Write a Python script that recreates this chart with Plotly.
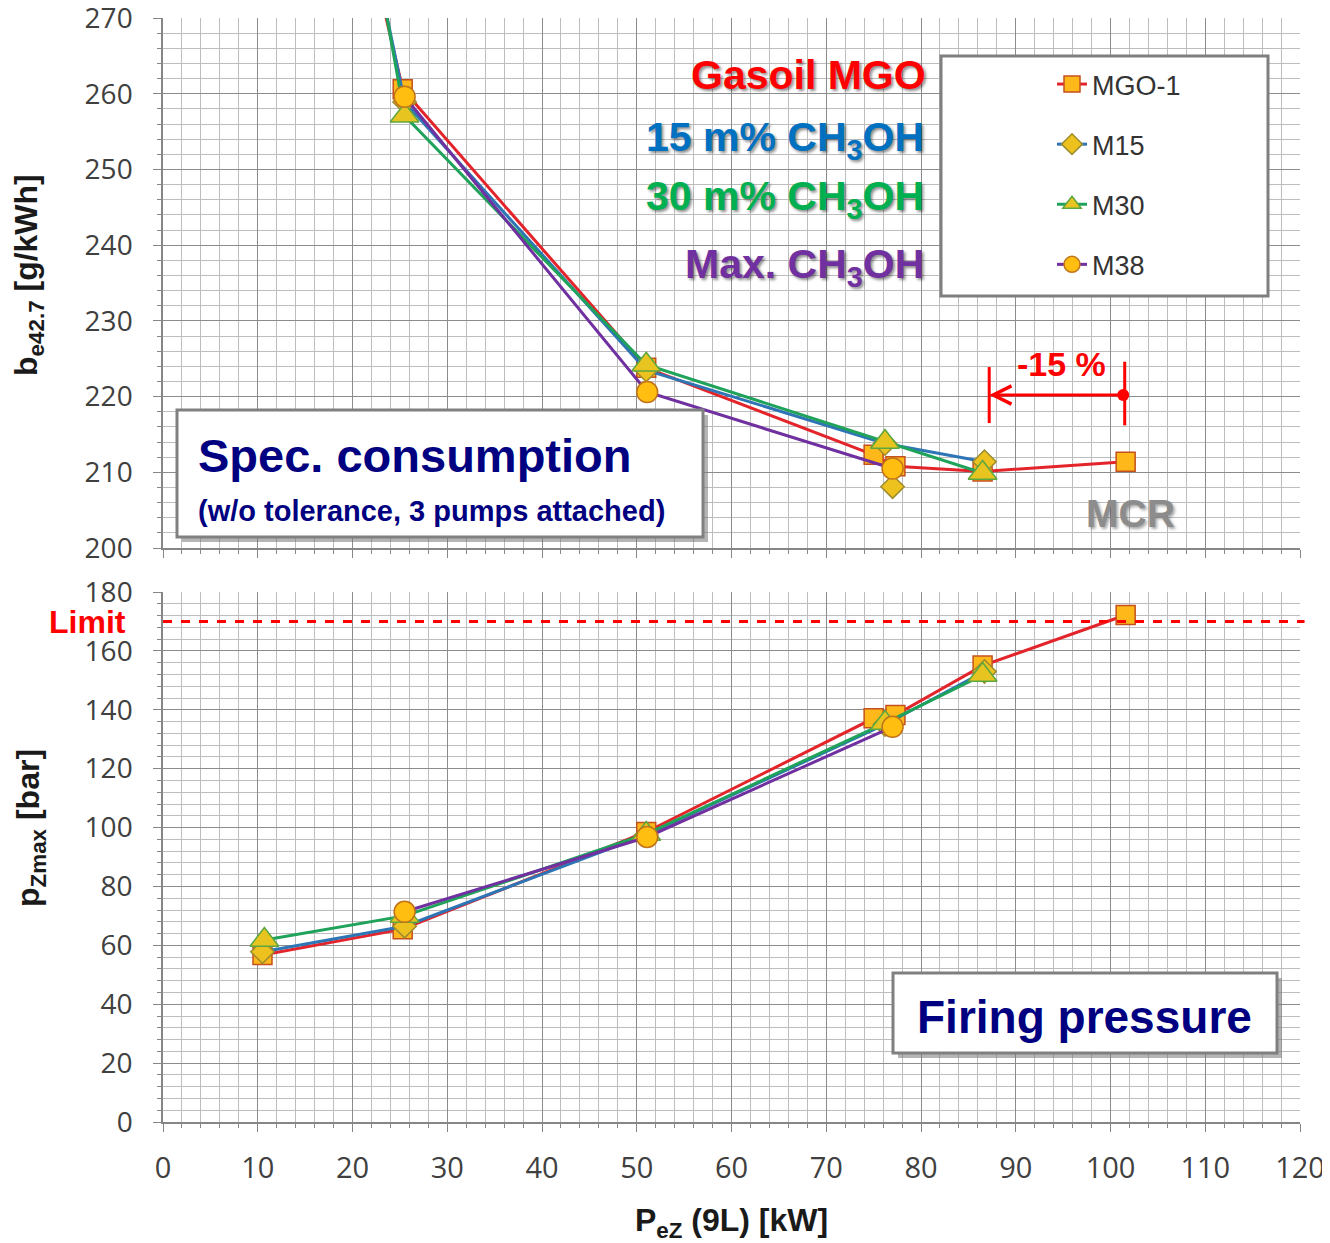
import plotly.graph_objects as go

# ---------------- data ----------------
series_names = ["MGO-1", "M15", "M30", "M38"]

load_mgo = [10.5, 25.3, 51.0, 75.0, 77.3, 86.5, 101.6]
be_mgo = [340.0, 260.6, 223.8, 212.3, 210.8, 210.1, 211.4]
pz_mgo = [56.7, 65.5, 98.5, 137.1, 138.2, 155.0, 172.2]

load_m15 = [10.5, 25.5, 51.0, 76.2, 86.7]
be_m15 = [350.0, 258.9, 223.5, 213.8, 211.4]
pz_m15 = [57.8, 66.5, 97.5, 135.0, 153.0]

load_m15_extra = [77.0]
be_m15_extra = [208.1]

load_m30 = [10.7, 25.5, 51.0, 76.2, 86.5]
be_m30 = [360.0, 257.1, 224.2, 214.0, 209.9]
pz_m30 = [61.8, 70.0, 97.8, 135.5, 151.8]

load_m38 = [25.5, 51.1, 77.0]
be_m38 = [259.6, 220.6, 210.5]
pz_m38 = [71.4, 96.8, 134.2]

limit_pz = 170
mcr_load = 101.5
derated_load = 87.2
arrow_be = 220.2

x_ticks = list(range(0, 121, 10))

# ---------------- geometry helpers (page pixel -> paper) ----------------
OFF = 8  # default body margin of the page
W, H = 1322, 1235
ML, MR, MT, MB = 155, 30, 10, 121
PW, PH = W - ML - MR, H - MT - MB


def px(x):
    return (x - OFF - ML) / PW


def py(y):
    return (H - MB - (y - OFF)) / PH


FONT = "Liberation Sans, Arial, sans-serif"
TICKFONT = "Open Sans, Liberation Sans, sans-serif"

styles = {
    "MGO-1": dict(line="#E3242B", symbol="square", size=19, fill="#FFB81A", edge="#C4501E"),
    "M15": dict(line="#2E75B6", symbol="diamond", size=18, fill="#EEC21E", edge="#9B8B2E"),
    "M30": dict(line="#1FA25A", symbol="triangle-up", size=25, fill="#E8C420", edge="#5DA740"),
    "M38": dict(line="#7030A0", symbol="circle", size=21, fill="#FFBE10", edge="#C0731A"),
}

data_top = {
    "MGO-1": (load_mgo, be_mgo),
    "M15": (load_m15, be_m15),
    "M30": (load_m30, be_m30),
    "M38": (load_m38, be_m38),
}
data_bot = {
    "MGO-1": (load_mgo, pz_mgo),
    "M15": (load_m15, pz_m15),
    "M30": (load_m30, pz_m30),
    "M38": (load_m38, pz_m38),
}

fig = go.Figure()

for name in series_names:
    s = styles[name]
    marker = dict(symbol=s["symbol"], size=s["size"], color=s["fill"],
                  line=dict(color=s["edge"], width=1.5))
    xs, ys = data_top[name]
    fig.add_trace(go.Scatter(x=xs, y=ys, name=name, mode="lines+markers",
                             line=dict(color=s["line"], width=3), marker=marker,
                             xaxis="x", yaxis="y", legendgroup=name, showlegend=True))
    if name == "M15":
        fig.add_trace(go.Scatter(x=load_m15_extra, y=be_m15_extra, mode="markers",
                                 marker=marker, xaxis="x", yaxis="y",
                                 legendgroup=name, showlegend=False))
for name in series_names:
    s = styles[name]
    marker = dict(symbol=s["symbol"], size=s["size"], color=s["fill"],
                  line=dict(color=s["edge"], width=1.5))
    xs, ys = data_bot[name]
    fig.add_trace(go.Scatter(x=xs, y=ys, name=name, mode="lines+markers",
                             line=dict(color=s["line"], width=3), marker=marker,
                             xaxis="x2", yaxis="y2", legendgroup=name, showlegend=False))

axis_common = dict(
    showline=True, linecolor="#868686", linewidth=1.5,
    ticks="outside", ticklen=8, tickcolor="#868686",
    showgrid=True, gridcolor="#8C8C8C", gridwidth=1.2,
    zeroline=False, automargin=False, ticklabeloverflow="allow",
)
xtickfont = dict(family=TICKFONT, size=29, color="#404040")
ytickfont = dict(family=TICKFONT, size=28, color="#404040")

top_dom = [py(548), 1.0]
bot_dom = [0.0, py(592)]
minor_x = dict(dtick=2, ticks="outside", ticklen=4, tickcolor="#868686",
               showgrid=True, gridcolor="#BDBDBD", gridwidth=1)

fig.update_layout(
    width=W, height=H, autosize=False,
    margin=dict(l=ML, r=MR, t=MT, b=MB, pad=0, autoexpand=False),
    paper_bgcolor="white", plot_bgcolor="white",
    font=dict(family=FONT),
    xaxis=dict(domain=[0, 1], anchor="y", range=[0, 120], tickvals=x_ticks,
               showticklabels=False, minor=minor_x, tickfont=xtickfont, **axis_common),
    yaxis=dict(domain=top_dom, anchor="x", range=[200, 270], dtick=10,
               ticklabelstandoff=15, minor=minor_x, tickfont=ytickfont, **axis_common),
    xaxis2=dict(domain=[0, 1], anchor="y2", range=[0, 120], tickvals=x_ticks,
                matches="x", ticklabelstandoff=11, tickfont=xtickfont,
                title=dict(text="<b>P<sub>eZ</sub> (9L) [kW]</b>",
                           font=dict(family=FONT, size=32, color="#1a1a1a"), standoff=24),
                minor=minor_x, **axis_common),
    yaxis2=dict(domain=bot_dom, anchor="x2", range=[0, 180], dtick=20,
                ticklabelstandoff=15, tickfont=ytickfont,
                minor=dict(dtick=4, ticks="outside", ticklen=4, tickcolor="#868686",
                           showgrid=True, gridcolor="#BDBDBD", gridwidth=1),
                **axis_common),
    legend=dict(x=px(1052), y=py(60), xanchor="left", yanchor="top",
                bgcolor="rgba(0,0,0,0)", borderwidth=0,
                font=dict(family=FONT, size=27, color="#333333"),
                tracegroupgap=22, itemsizing="trace"),
    showlegend=True,
)

shapes = []
# legend frame
shapes.append(dict(type="rect", xref="paper", yref="paper",
                   x0=px(941), x1=px(1268), y0=py(296), y1=py(56),
                   fillcolor="white", line=dict(color="#7F7F7F", width=3), layer="above"))
# text boxes with shadow
for (x0, y0, x1, y1) in [(177, 410, 703, 537), (893, 973, 1277, 1053)]:
    shapes.append(dict(type="rect", xref="paper", yref="paper",
                       x0=px(x0 + 5), x1=px(x1 + 5), y0=py(y1 + 5), y1=py(y0 + 5),
                       fillcolor="rgba(120,120,120,0.55)", line=dict(width=0), layer="above"))
    shapes.append(dict(type="rect", xref="paper", yref="paper",
                       x0=px(x0), x1=px(x1), y0=py(y1), y1=py(y0),
                       fillcolor="white", line=dict(color="#808080", width=3), layer="above"))
# limit line
shapes.append(dict(type="line", xref="paper", yref="y2", x0=0, x1=1.004,
                   y0=limit_pz, y1=limit_pz, line=dict(color="#FF0000", width=3, dash="dash")))
# -15% markers
shapes.append(dict(type="line", xref="x", yref="y", x0=derated_load, x1=derated_load,
                   y0=216.5, y1=223.9, line=dict(color="#FF0000", width=3)))
shapes.append(dict(type="line", xref="x", yref="y", x0=mcr_load, x1=mcr_load,
                   y0=216.2, y1=224.6, line=dict(color="#FF0000", width=3)))
fig.update_layout(shapes=shapes)

shadow = "2px 2px 3px rgba(0,0,0,0.45)"
ann = []
ann.append(dict(x=derated_load, y=arrow_be, ax=mcr_load, ay=arrow_be,
                xref="x", yref="y", axref="x", ayref="y", text="",
                showarrow=True, arrowhead=5, arrowsize=1.2, arrowwidth=3,
                arrowcolor="#FF0000", arrowside="end+start", startarrowhead=6,
                startarrowsize=1.0, standoff=0, startstandoff=0))


def txt(text, x, y, size, color, xanchor="center", sh=None, angle=0):
    f = dict(family=FONT, size=size, color=color)
    if sh:
        f["shadow"] = sh
    ann.append(dict(text=text, x=px(x), y=py(y), xref="paper", yref="paper",
                    xanchor=xanchor, yanchor="middle", showarrow=False, font=f,
                    textangle=angle))


txt("<b>Gasoil MGO</b>", 928, 75, 41, "#FF0000", "right", shadow)
txt("<b>15 m% CH<sub>3</sub>OH</b>", 926, 140, 41, "#0070C0", "right", shadow)
txt("<b>30 m% CH<sub>3</sub>OH</b>", 926, 199, 41, "#00B050", "right", shadow)
txt("<b>Max. CH<sub>3</sub>OH</b>", 926, 267, 41, "#7030A0", "right", shadow)
txt("<b>Spec. consumption</b>", 196, 455, 47, "#000080", "left")
txt("<b>(w/o tolerance, 3 pumps attached)</b>", 196, 511, 29, "#000080", "left")
txt("<b>MCR</b>", 1130, 513, 39, "#8C8C8C", "center", "2px 2px 3px rgba(0,0,0,0.35)")
txt("<b>-15 %</b>", 1061, 364, 34, "#FF0000")
txt("<b>Limit</b>", 128, 622, 32, "#FF0000", "right")
txt("<b>Firing pressure</b>", 1084, 1017, 46, "#000080")
txt("<b>b<sub>e42.7</sub> [g/kWh]</b>", 28, 275, 32, "#1a1a1a", angle=-90)
txt("<b>p<sub>Zmax</sub> [bar]</b>", 30, 828, 32, "#1a1a1a", angle=-90)
fig.update_layout(annotations=ann)

fig.write_html("out.html")
